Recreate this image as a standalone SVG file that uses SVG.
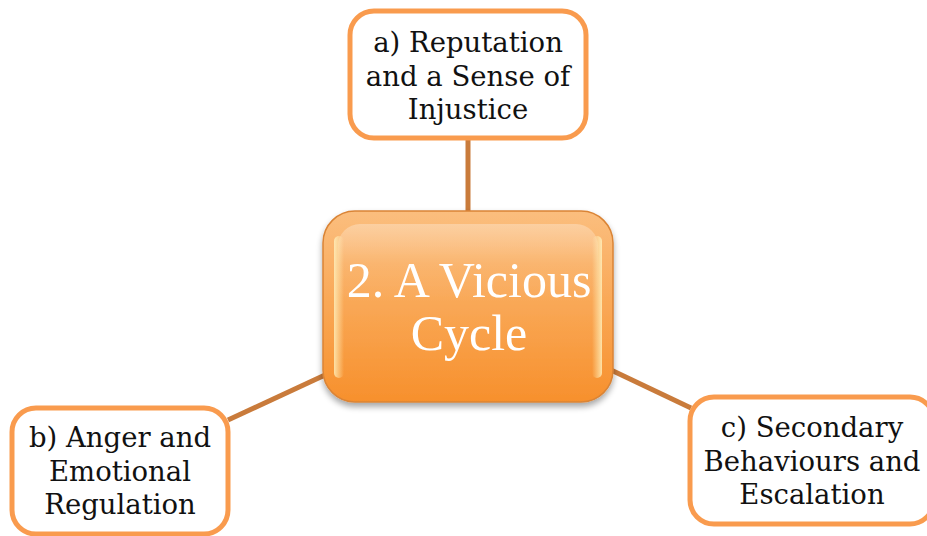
<svg xmlns="http://www.w3.org/2000/svg" width="927" height="536" viewBox="0 0 927 536">
  <defs>
    <linearGradient id="hubFill" x1="0" y1="0" x2="0" y2="1">
      <stop offset="0" stop-color="#FBBE7E"/>
      <stop offset="1" stop-color="#F7902C"/>
    </linearGradient>
    <linearGradient id="hubGloss" x1="0" y1="0" x2="0" y2="1">
      <stop offset="0" stop-color="#ffffff" stop-opacity="0.3"/>
      <stop offset="0.5" stop-color="#ffffff" stop-opacity="0.05"/>
      <stop offset="1" stop-color="#ffffff" stop-opacity="0"/>
    </linearGradient>
    <linearGradient id="sideGlow" x1="0" y1="0" x2="1" y2="0">
      <stop offset="0" stop-color="#FFF3C0" stop-opacity="0.8"/>
      <stop offset="1" stop-color="#FFF3C0" stop-opacity="0"/>
    </linearGradient>
    <filter id="hubShadow" x="-10%" y="-10%" width="120%" height="130%">
      <feGaussianBlur in="SourceAlpha" stdDeviation="3"/>
      <feOffset dy="4" result="b"/>
      <feComponentTransfer><feFuncA type="linear" slope="0.35"/></feComponentTransfer>
      <feMerge><feMergeNode/><feMergeNode in="SourceGraphic"/></feMerge>
    </filter>
  </defs>
  <style>
    .link { stroke: #C97B3B; stroke-width: 5; fill: none; }
    .leaf rect { fill: #ffffff; stroke: #F99B4E; stroke-width: 5; }
    .leaf text { font-family: "DejaVu Serif", "Liberation Serif", serif; font-size: 27.5px; fill: #111111; text-anchor: middle; }
    .hub text { font-family: "Liberation Serif", "DejaVu Serif", serif; font-size: 50px; fill: #ffffff; text-anchor: middle; }
  </style>
  <rect width="927" height="536" fill="#ffffff"/>

  <g id="connectors">
    <line class="link" x1="468" y1="138" x2="468" y2="213"/>
    <line class="link" x1="228" y1="420" x2="325" y2="375"/>
    <line class="link" x1="611" y1="370" x2="691" y2="408"/>
  </g>

  <g id="hub" class="hub">
    <rect x="323" y="211" width="290" height="191" rx="32" fill="url(#hubFill)" stroke="#DA8436" stroke-width="1.5" filter="url(#hubShadow)"/>
    <rect x="338" y="224" width="260" height="80" rx="22" fill="url(#hubGloss)"/>
    <rect x="334" y="236" width="10" height="142" rx="5" fill="url(#sideGlow)"/>
    <rect x="592" y="236" width="10" height="142" rx="5" fill="url(#sideGlow)" transform="rotate(180 597 307)"/>
    <text x="469" y="297">2. A Vicious</text>
    <text x="469" y="350">Cycle</text>
  </g>

  <g id="node-a" class="leaf">
    <rect x="350" y="11" width="236" height="127" rx="24"/>
    <text x="468" y="52">a) Reputation</text>
    <text x="468" y="86">and a Sense of</text>
    <text x="468" y="119">Injustice</text>
  </g>

  <g id="node-b" class="leaf">
    <rect x="12" y="408" width="216" height="126" rx="24"/>
    <text x="120" y="447">b) Anger and</text>
    <text x="120" y="481">Emotional</text>
    <text x="120" y="514">Regulation</text>
  </g>

  <g id="node-c" class="leaf">
    <rect x="690" y="397" width="244" height="127" rx="24"/>
    <text x="812" y="437">c) Secondary</text>
    <text x="812" y="471">Behaviours and</text>
    <text x="812" y="504">Escalation</text>
  </g>
</svg>
